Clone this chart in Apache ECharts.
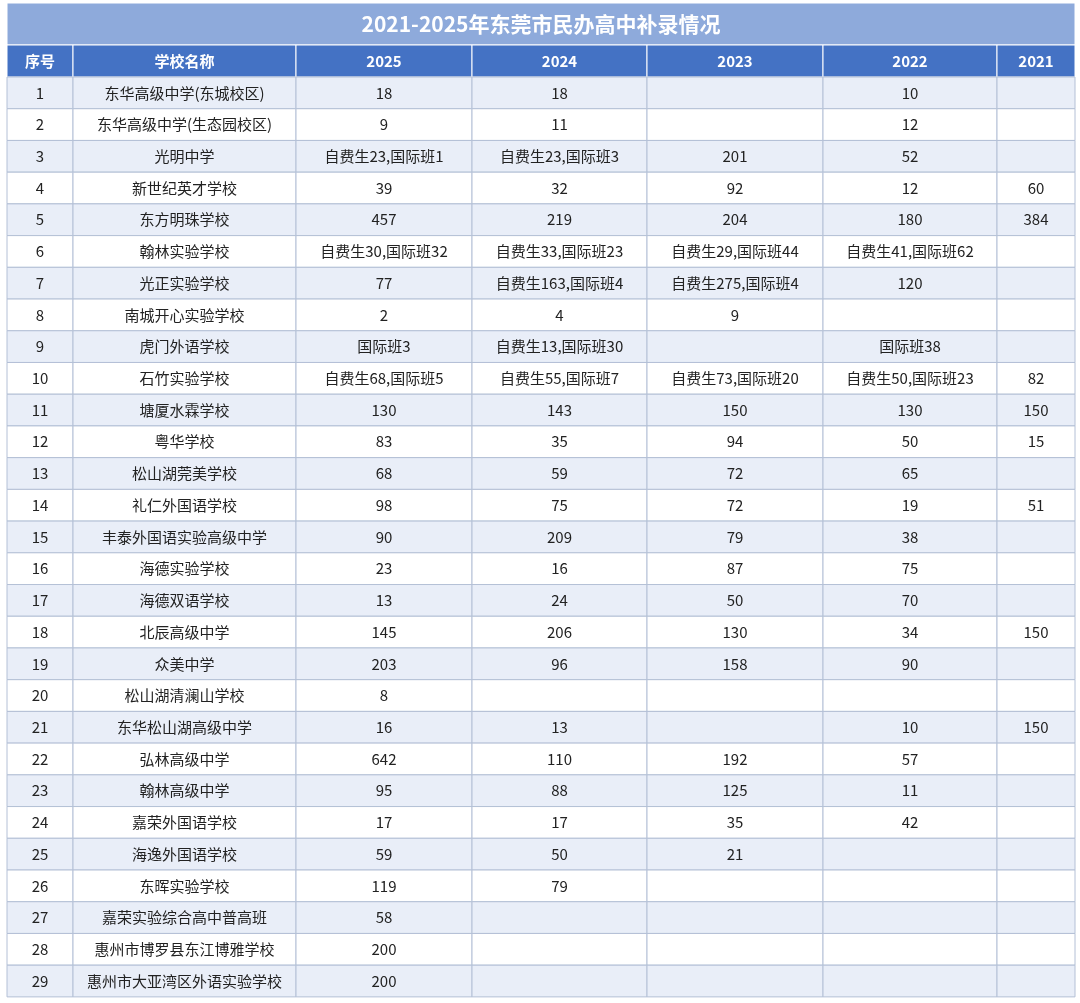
<!DOCTYPE html>
<html><head><meta charset="utf-8">
<script src="https://cdn.jsdelivr.net/npm/echarts@6/dist/echarts.min.js"></script>
<style>html,body{margin:0;padding:0;background:#fff}#main{width:1080px;height:1003px}</style>
</head><body><div id="main"></div>
<script>
const title = '2021-2025年东莞市民办高中补录情况';
const headers = ['序号', '学校名称', '2025', '2024', '2023', '2022', '2021'];
const schools = ['东华高级中学(东城校区)', '东华高级中学(生态园校区)', '光明中学', '新世纪英才学校', '东方明珠学校',
    '翰林实验学校', '光正实验学校', '南城开心实验学校', '虎门外语学校', '石竹实验学校', '塘厦水霖学校', '粤华学校',
    '松山湖莞美学校', '礼仁外国语学校', '丰泰外国语实验高级中学', '海德实验学校', '海德双语学校', '北辰高级中学',
    '众美中学', '松山湖清澜山学校', '东华松山湖高级中学', '弘林高级中学', '翰林高级中学', '嘉荣外国语学校',
    '海逸外国语学校', '东晖实验学校', '嘉荣实验综合高中普高班', '惠州市博罗县东江博雅学校', '惠州市大亚湾区外语实验学校'];
const y2025 = ['18', '9', '自费生23,国际班1', '39', '457', '自费生30,国际班32', '77', '2', '国际班3', '自费生68,国际班5',
    '130', '83', '68', '98', '90', '23', '13', '145', '203', '8', '16', '642', '95', '17', '59', '119', '58', '200', '200'];
const y2024 = ['18', '11', '自费生23,国际班3', '32', '219', '自费生33,国际班23', '自费生163,国际班4', '4', '自费生13,国际班30', '自费生55,国际班7',
    '143', '35', '59', '75', '209', '16', '24', '206', '96', '', '13', '110', '88', '17', '50', '79', '', '', ''];
const y2023 = ['', '', '201', '92', '204', '自费生29,国际班44', '自费生275,国际班4', '9', '', '自费生73,国际班20',
    '150', '94', '72', '72', '79', '87', '50', '130', '158', '', '', '192', '125', '35', '21', '', '', '', ''];
const y2022 = ['10', '12', '52', '12', '180', '自费生41,国际班62', '120', '', '国际班38', '自费生50,国际班23',
    '130', '50', '65', '19', '38', '75', '70', '34', '90', '', '10', '57', '11', '42', '', '', '', '', ''];
const y2021 = ['', '', '', '60', '384', '', '', '', '', '82',
    '150', '15', '', '51', '', '', '', '150', '', '', '150', '', '', '', '', '', '', '', ''];

// layout
const colEdges = [7, 73, 296, 472, 647, 823, 997, 1075];
const titleTop = 3, headTop = 45, rowTop = 77, rowH = 31.72;

const cells = [];
cells.push({ value: [colEdges[0], titleTop, colEdges[7], headTop], text: title, kind: 'title' });
headers.forEach((h, c) => cells.push({ value: [colEdges[c], headTop, colEdges[c + 1], rowTop], text: h, kind: 'head' }));
const cols = [schools.map((_, i) => String(i + 1)), schools, y2025, y2024, y2023, y2022, y2021];
schools.forEach((_, r) => {
    cols.forEach((col, c) => {
        const t = rowTop + r * rowH;
        cells.push({ value: [colEdges[c], t, colEdges[c + 1], t + rowH], text: col[r], kind: r % 2 ? 'even' : 'odd' });
    });
});

const chart = echarts.init(document.getElementById('main'));
chart.setOption({
    animation: false,
    grid: { left: 0, right: 0, top: 0, bottom: 0 },
    xAxis: { type: 'value', min: 0, max: 1080, show: false },
    yAxis: { type: 'value', min: 0, max: 1003, inverse: true, show: false },
    series: [{
        type: 'custom',
        data: cells,
        renderItem(params, api) {
            const d = cells[params.dataIndex];
            const p1 = api.coord([api.value(0), api.value(1)]);
            const p2 = api.coord([api.value(2), api.value(3)]);
            const fills = { title: '#8eaadb', head: '#4472c4', odd: '#e9eef8', even: '#ffffff' };
            const isHead = d.kind === 'title' || d.kind === 'head';
            return {
                type: 'group',
                children: [{
                    type: 'rect',
                    shape: { x: p1[0], y: p1[1], width: p2[0] - p1[0], height: p2[1] - p1[1] },
                    style: { fill: fills[d.kind], stroke: isHead ? '#ffffff' : '#b4c0d6', lineWidth: 1 }
                }, {
                    type: 'text',
                    style: {
                        x: (p1[0] + p2[0]) / 2, y: (p1[1] + p2[1]) / 2,
                        text: d.text, align: 'center', verticalAlign: 'middle',
                        fill: isHead ? '#ffffff' : '#222222',
                        font: (isHead ? 'bold ' : '') + (d.kind === 'title' ? '21px' : '15px') + ' "Noto Sans CJK SC", sans-serif'
                    }
                }]
            };
        }
    }]
});
</script>
</body></html>
